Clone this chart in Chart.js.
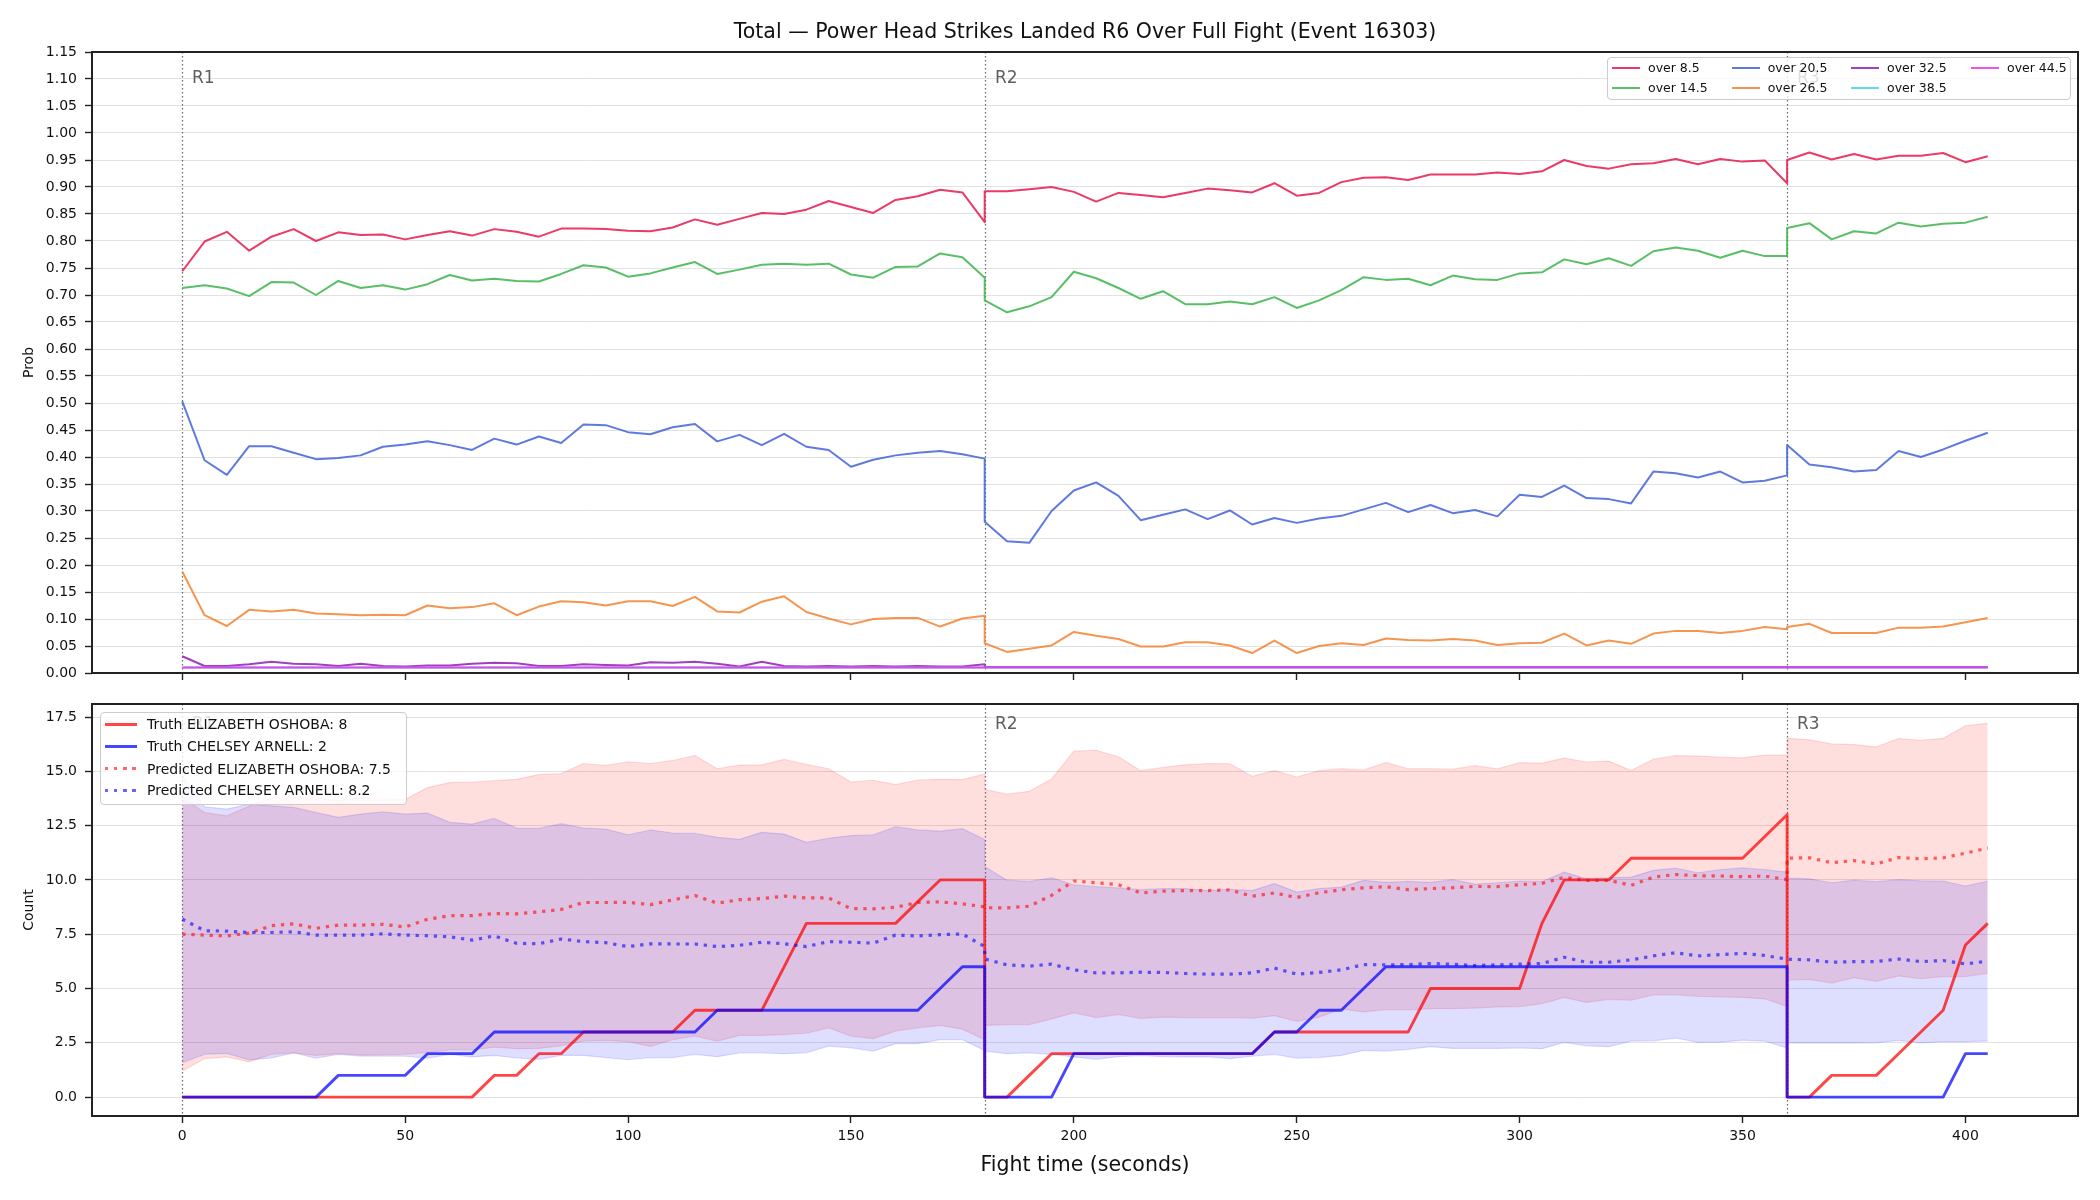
<!DOCTYPE html>
<html>
<head>
<meta charset="utf-8">
<script src="https://cdn.jsdelivr.net/npm/chart.js@4.4.1/dist/chart.umd.min.js"></script>
<style>
  html, body { margin:0; padding:0; background:#fff; }
  body { width:2100px; height:1200px; position:relative; overflow:hidden; font-family:"DejaVu Sans", sans-serif; color:#111; }
  canvas { position:absolute; left:0; top:0; }
  .abs { position:absolute; white-space:nowrap; }
  .legbox { position:absolute; border:1px solid #cccccc; border-radius:4px; background:rgba(255,255,255,0.8); box-sizing:border-box; }
</style>
</head>
<body>
<canvas id="cTop" width="2100" height="1200"></canvas>
<canvas id="cBot" width="2100" height="1200"></canvas>
<div id="title" class="abs" style="left:0;width:2170px;top:19px;text-align:center;font-size:20.5px;line-height:24px;">Total — Power Head Strikes Landed R6 Over Full Fight (Event 16303)</div>
<div id="legTop"></div>
<div id="legBot"></div>
<script>
// ---------------- DATA ----------------
const roundStarts = [0, 180, 360];
const roundLabels = ['R1', 'R2', 'R3'];

const xTicks = [0, 50, 100, 150, 200, 250, 300, 350, 400];
const probTicks = [0, 0.05, 0.10, 0.15, 0.20, 0.25, 0.30, 0.35, 0.40, 0.45, 0.50, 0.55, 0.60, 0.65, 0.70, 0.75, 0.80, 0.85, 0.90, 0.95, 1.00, 1.05, 1.10, 1.15];
const countTicks = [0, 2.5, 5, 7.5, 10, 12.5, 15, 17.5];

// fight time (s); round boundaries appear twice (end of one round, start of next)
const times = [
  0,5,10,15,20,25,30,35,40,45,50,55,60,65,70,75,80,85,90,95,100,105,110,115,120,125,130,135,140,145,150,155,160,165,170,175,180,
  180,185,190,195,200,205,210,215,220,225,230,235,240,245,250,255,260,265,270,275,280,285,290,295,300,305,310,315,320,325,330,335,340,345,350,355,360,
  360,365,370,375,380,385,390,395,400,405
];

const lineNames = ['over 8.5', 'over 14.5', 'over 20.5', 'over 26.5', 'over 32.5', 'over 38.5', 'over 44.5'];

const over8_5 = [
  0.744,0.799,0.817,0.782,0.808,0.822,0.800,0.816,0.811,0.812,0.803,0.811,0.818,0.810,0.822,0.817,0.808,0.823,0.823,0.822,0.819,0.818,0.825,0.840,0.830,0.841,0.852,0.850,0.858,0.874,0.863,0.852,0.876,0.883,0.895,0.890,0.835,
  0.892,0.892,0.896,0.900,0.891,0.873,0.889,0.885,0.881,0.889,0.897,0.894,0.890,0.907,0.884,0.889,0.909,0.917,0.918,0.913,0.923,0.923,0.923,0.927,0.924,0.929,0.950,0.939,0.934,0.942,0.944,0.952,0.942,0.952,0.947,0.949,0.907,
  0.950,0.964,0.951,0.961,0.951,0.958,0.958,0.963,0.946,0.957
];
const over14_5 = [
  0.713,0.718,0.712,0.698,0.724,0.723,0.700,0.726,0.713,0.718,0.710,0.720,0.737,0.727,0.730,0.726,0.725,0.739,0.755,0.751,0.734,0.740,0.751,0.761,0.739,0.747,0.756,0.758,0.756,0.758,0.738,0.732,0.752,0.753,0.777,0.770,0.732,
  0.690,0.668,0.679,0.696,0.743,0.731,0.713,0.693,0.707,0.683,0.683,0.688,0.683,0.696,0.676,0.690,0.709,0.733,0.728,0.730,0.718,0.736,0.729,0.728,0.740,0.742,0.766,0.757,0.768,0.754,0.781,0.788,0.782,0.769,0.782,0.772,0.772,
  0.824,0.833,0.803,0.818,0.814,0.834,0.827,0.832,0.834,0.845
];
const over20_5 = [
  0.503,0.394,0.367,0.420,0.420,0.408,0.396,0.398,0.403,0.419,0.423,0.429,0.422,0.413,0.434,0.423,0.438,0.426,0.460,0.459,0.446,0.442,0.455,0.461,0.429,0.441,0.422,0.443,0.419,0.413,0.382,0.395,0.403,0.408,0.411,0.405,0.397,
  0.280,0.244,0.241,0.300,0.338,0.353,0.328,0.283,0.293,0.303,0.285,0.301,0.275,0.287,0.278,0.286,0.291,0.303,0.315,0.298,0.311,0.296,0.302,0.290,0.330,0.326,0.347,0.324,0.322,0.314,0.373,0.370,0.362,0.373,0.353,0.356,0.366,
  0.422,0.386,0.381,0.373,0.376,0.411,0.400,0.414,0.430,0.445
];
const over26_5 = [
  0.188,0.107,0.087,0.117,0.114,0.117,0.110,0.109,0.107,0.108,0.107,0.125,0.120,0.122,0.129,0.107,0.123,0.133,0.131,0.125,0.133,0.133,0.124,0.141,0.114,0.112,0.132,0.142,0.113,0.101,0.090,0.100,0.102,0.102,0.086,0.101,0.106,
  0.055,0.039,0.045,0.051,0.076,0.069,0.063,0.049,0.049,0.057,0.057,0.051,0.037,0.060,0.037,0.050,0.055,0.052,0.064,0.061,0.060,0.063,0.060,0.052,0.055,0.056,0.073,0.051,0.060,0.054,0.073,0.078,0.078,0.074,0.078,0.085,0.081,
  0.085,0.091,0.074,0.074,0.074,0.084,0.084,0.086,0.094,0.102
];
const over32_5 = [
  0.031,0.013,0.013,0.016,0.021,0.017,0.016,0.013,0.017,0.013,0.012,0.014,0.014,0.017,0.019,0.018,0.013,0.013,0.016,0.015,0.014,0.020,0.019,0.021,0.017,0.012,0.021,0.013,0.012,0.013,0.012,0.013,0.012,0.013,0.012,0.012,0.016,
  0.011,0.011,0.011,0.011,0.011,0.011,0.011,0.011,0.011,0.011,0.011,0.011,0.011,0.011,0.011,0.011,0.011,0.011,0.011,0.011,0.011,0.011,0.011,0.011,0.011,0.011,0.011,0.011,0.011,0.011,0.011,0.011,0.011,0.011,0.011,0.011,0.011,
  0.011,0.011,0.011,0.011,0.011,0.011,0.011,0.011,0.011,0.011
];
const over38_5 = [
  0.010,0.010,0.010,0.010,0.010,0.010,0.010,0.010,0.010,0.010,0.010,0.010,0.010,0.010,0.010,0.010,0.010,0.010,0.010,0.010,0.010,0.010,0.010,0.010,0.010,0.010,0.010,0.010,0.010,0.010,0.010,0.010,0.010,0.010,0.010,0.010,0.010,
  0.010,0.010,0.010,0.010,0.010,0.010,0.010,0.010,0.010,0.010,0.010,0.010,0.010,0.010,0.010,0.010,0.010,0.010,0.010,0.010,0.010,0.010,0.010,0.010,0.010,0.010,0.010,0.010,0.010,0.010,0.010,0.010,0.010,0.010,0.010,0.010,0.010,
  0.010,0.010,0.010,0.010,0.010,0.010,0.010,0.010,0.010,0.010
];
const over44_5 = [
  0.010,0.010,0.010,0.010,0.010,0.010,0.010,0.010,0.010,0.010,0.010,0.010,0.010,0.010,0.010,0.010,0.010,0.010,0.010,0.010,0.010,0.010,0.010,0.010,0.010,0.010,0.010,0.010,0.010,0.010,0.010,0.010,0.010,0.010,0.010,0.010,0.010,
  0.010,0.010,0.010,0.010,0.010,0.010,0.010,0.010,0.010,0.010,0.010,0.010,0.010,0.010,0.010,0.010,0.010,0.010,0.010,0.010,0.010,0.010,0.010,0.010,0.010,0.010,0.010,0.010,0.010,0.010,0.010,0.010,0.010,0.010,0.010,0.010,0.010,
  0.010,0.010,0.010,0.010,0.010,0.010,0.010,0.010,0.010,0.010
];

const countNames = ['Truth ELIZABETH OSHOBA: 8', 'Truth CHELSEY ARNELL: 2', 'Predicted ELIZABETH OSHOBA: 7.5', 'Predicted CHELSEY ARNELL: 8.2'];

const truthOshoba = [
  0,0,0,0,0,0,0,0,0,0,0,0,0,0,1,1,2,2,3,3,3,3,3,4,4,4,4,6,8,8,8,8,8,9,10,10,10,
  0,0,1,2,2,2,2,2,2,2,2,2,2,3,3,3,3,3,3,3,5,5,5,5,5,8,10,10,10,11,11,11,11,11,11,12,13,
  0,0,1,1,1,2,3,4,7,8
];
const truthArnell = [
  0,0,0,0,0,0,0,1,1,1,1,2,2,2,3,3,3,3,3,3,3,3,3,3,4,4,4,4,4,4,4,4,4,4,5,6,6,
  0,0,0,0,2,2,2,2,2,2,2,2,2,3,3,4,4,5,6,6,6,6,6,6,6,6,6,6,6,6,6,6,6,6,6,6,6,
  0,0,0,0,0,0,0,0,2,2
];
const predOshoba = [
  7.50,7.46,7.42,7.55,7.89,7.98,7.77,7.92,7.92,7.96,7.83,8.19,8.35,8.36,8.45,8.44,8.53,8.64,8.96,8.96,8.97,8.86,9.08,9.28,8.93,9.09,9.14,9.25,9.17,9.17,8.68,8.67,8.74,8.96,8.99,8.90,8.76,
  8.72,8.71,8.79,9.29,9.95,9.87,9.78,9.40,9.48,9.51,9.51,9.54,9.25,9.40,9.19,9.41,9.55,9.63,9.69,9.55,9.60,9.64,9.70,9.69,9.78,9.84,10.12,9.98,9.98,9.75,10.13,10.25,10.19,10.18,10.15,10.18,10.01,
  11.00,11.02,10.79,10.89,10.74,11.03,10.97,11.02,11.23,11.47
];
const predArnell = [
  8.20,7.66,7.64,7.58,7.58,7.61,7.46,7.46,7.46,7.52,7.46,7.43,7.38,7.23,7.42,7.08,7.06,7.28,7.16,7.11,6.93,7.06,7.05,7.05,6.93,6.99,7.13,7.06,6.93,7.16,7.13,7.09,7.46,7.42,7.48,7.51,6.93,
  6.36,6.09,6.03,6.12,5.86,5.72,5.72,5.75,5.74,5.69,5.66,5.66,5.72,5.94,5.66,5.74,5.86,6.10,6.09,6.10,6.15,6.12,6.06,6.09,6.12,6.15,6.44,6.21,6.21,6.32,6.50,6.65,6.50,6.56,6.62,6.52,6.35,
  6.35,6.32,6.21,6.24,6.24,6.36,6.24,6.29,6.13,6.26
];
const oshobaHigh = [
  13.80,13.10,12.95,13.40,13.80,13.85,13.80,13.65,13.80,13.75,13.70,14.25,14.48,14.50,14.57,14.63,14.85,14.90,15.36,15.27,15.44,15.36,15.50,15.73,15.12,15.29,15.30,15.55,15.32,15.12,14.51,14.59,14.39,14.60,14.63,14.62,14.88,
  14.17,13.95,14.08,14.65,15.93,15.97,15.67,15.03,15.18,15.30,15.36,15.35,14.77,15.04,14.74,15.03,15.12,15.06,15.41,15.12,15.12,15.10,15.26,15.12,15.40,15.38,15.61,15.43,15.47,15.04,15.56,15.72,15.70,15.65,15.62,15.75,15.75,
  16.52,16.45,16.26,16.23,16.13,16.51,16.43,16.52,17.10,17.21
];
const oshobaLow = [
  1.20,1.77,1.85,1.62,1.97,2.03,1.92,2.00,1.94,1.95,1.97,2.06,2.17,2.17,2.30,2.23,2.24,2.36,2.58,2.61,2.55,2.33,2.64,2.81,2.58,2.84,2.84,2.88,2.94,3.19,2.81,2.69,3.04,3.19,3.30,3.13,2.64,
  3.30,3.34,3.34,3.60,3.88,3.66,3.80,3.62,3.68,3.66,3.65,3.66,3.63,3.75,3.49,3.68,4.06,3.92,4.03,4.01,4.07,4.07,4.10,4.15,4.17,4.30,4.59,4.36,4.50,4.46,4.71,4.71,4.64,4.61,4.59,4.52,4.18,
  5.38,5.42,5.25,5.50,5.33,5.58,5.45,5.55,5.55,5.70
];
const arnellHigh = [
  14.78,13.37,13.26,13.49,13.41,13.34,13.11,12.88,13.03,13.14,13.03,13.08,12.65,12.57,12.83,12.39,12.37,12.59,12.39,12.34,12.08,12.30,12.16,12.15,11.96,11.87,12.19,12.11,11.73,11.92,12.04,12.08,12.45,12.30,12.25,12.36,11.86,
  10.62,9.99,9.93,10.10,9.77,9.69,9.63,9.55,9.60,9.60,9.51,9.57,9.51,9.83,9.44,9.60,9.67,9.98,9.89,9.93,9.89,10.01,9.81,9.87,9.95,9.93,10.36,10.05,10.10,10.13,10.44,10.54,10.33,10.47,10.56,10.47,10.36,
  10.09,10.05,9.87,9.99,9.92,10.01,9.96,9.95,9.72,9.95
];
const arnellLow = [
  1.59,1.97,2.01,1.71,1.80,2.04,1.79,1.97,1.89,1.89,1.88,1.79,1.97,1.85,1.92,1.80,1.74,1.92,1.92,1.82,1.72,1.82,1.82,1.97,1.86,2.03,2.03,2.00,2.04,2.35,2.27,2.12,2.46,2.46,2.65,2.64,2.15,
  2.12,2.00,2.04,1.97,1.85,1.74,1.86,1.91,1.86,1.85,1.86,1.77,1.88,1.97,1.79,1.82,1.92,2.15,2.12,2.20,2.32,2.24,2.24,2.24,2.26,2.23,2.52,2.36,2.32,2.58,2.59,2.72,2.52,2.53,2.62,2.58,2.26,
  2.49,2.49,2.49,2.49,2.50,2.61,2.49,2.55,2.55,2.58
];

// ---------------- STYLE ----------------
const lineColors = ['rgba(230,25,75,0.85)', 'rgba(60,180,75,0.85)', 'rgba(67,99,216,0.85)', 'rgba(245,130,49,0.85)', 'rgba(145,30,180,0.85)', 'rgba(66,212,244,0.85)', 'rgba(240,50,230,0.85)'];
const RED_T = 'rgba(255,0,0,0.72)', BLUE_T = 'rgba(0,0,255,0.72)';
const RED_P = 'rgba(255,0,0,0.6)', BLUE_P = 'rgba(0,0,255,0.6)';
const RED_B = 'rgba(255,0,0,0.13)', BLUE_B = 'rgba(0,0,255,0.13)';
const FRAME = '#222222';

Chart.defaults.font.family = '"DejaVu Sans", sans-serif';
Chart.defaults.font.size = 14;
Chart.defaults.color = '#111';

const pts = ys => times.map((t, i) => ({ x: t, y: ys[i] }));

const roundPlugin = {
  id: 'rounds',
  beforeDatasetsDraw(chart) {
    const { ctx, chartArea: a } = chart;
    const xs = chart.scales.x;
    ctx.save();
    roundStarts.forEach((t, i) => {
      const px = Math.round(xs.getPixelForValue(t)) + 0.5;
      ctx.strokeStyle = 'rgba(40,40,40,0.7)';
      ctx.lineWidth = 1.2;
      ctx.setLineDash([1.5, 2.5]);
      ctx.beginPath(); ctx.moveTo(px, a.top); ctx.lineTo(px, a.bottom); ctx.stroke();
      ctx.setLineDash([]);
      ctx.font = '17px "DejaVu Sans"';
      ctx.fillStyle = '#5f5f5f';
      ctx.textBaseline = 'alphabetic';
      ctx.textAlign = 'left';
      ctx.fillText(roundLabels[i], px + 9.5, a.top + 0.03 * (a.bottom - a.top) + 12.6);
    });
    ctx.restore();
  },
  afterDraw(chart) {
    const { ctx, chartArea: a } = chart;
    ctx.save();
    ctx.strokeStyle = FRAME; ctx.lineWidth = 2;
    ctx.strokeRect(a.left, a.top, a.right - a.left, a.bottom - a.top);
    ctx.restore();
  }
};

function xScale(showLabels, height, withTitle) {
  return {
    type: 'linear', min: -20.25, max: 425.25,
    afterBuildTicks: s => { s.ticks = xTicks.map(v => ({ value: v })); },
    ticks: { display: showLabels, padding: 5, autoSkip: false, maxRotation: 0, font: { size: 14 }, color: '#111', callback: v => String(v) },
    grid: { display: true, drawOnChartArea: false, drawTicks: true, tickLength: 7, tickColor: FRAME, tickWidth: 1.4 },
    border: { display: false },
    title: withTitle ? { display: true, text: 'Fight time (seconds)', font: { size: 20.5 }, color: '#111', padding: { top: 0, bottom: 22 } } : { display: false },
    afterFit: s => { s.height = height; }
  };
}
function yScale(min, max, tickVals, digits, label) {
  return {
    type: 'linear', min: min, max: max,
    afterBuildTicks: s => { s.ticks = tickVals.map(v => ({ value: v })); },
    ticks: { autoSkip: false, padding: 8, font: { size: 14 }, color: '#111', callback: v => Number(v).toFixed(digits) },
    grid: { color: '#e2e2e2', lineWidth: 1, drawTicks: true, tickLength: 7, tickColor: FRAME, tickWidth: 1.4 },
    border: { display: false },
    title: { display: true, text: label, font: { size: 14 }, color: '#111', padding: { top: 21, bottom: 0 } },
    afterFit: s => { s.width = 92; }
  };
}

// ---------------- TOP CHART ----------------
const topSeries = [over8_5, over14_5, over20_5, over26_5, over32_5, over38_5, over44_5];
new Chart(document.getElementById('cTop'), {
  type: 'line',
  data: {
    datasets: topSeries.map((ys, i) => ({
      label: lineNames[i], data: pts(ys), borderColor: lineColors[i], backgroundColor: lineColors[i],
      borderWidth: 2, pointRadius: 0, tension: 0, fill: false, order: -i, borderJoinStyle: 'round'
    }))
  },
  options: {
    responsive: false, animation: false, events: [],
    layout: { padding: { left: 0, right: 22, top: 52, bottom: 517 } },
    plugins: { legend: { display: false }, tooltip: { enabled: false }, title: { display: false } },
    scales: { x: xScale(false, 10, false), y: yScale(0, 1.15, probTicks, 2, 'Prob') }
  },
  plugins: [roundPlugin]
});

// ---------------- BOTTOM CHART ----------------
const botDatasets = [
  { label: 'band1', data: pts(oshobaHigh), borderColor: RED_B, backgroundColor: RED_B, borderWidth: 1.2, fill: '+1' },
  { label: 'band1lo', data: pts(oshobaLow), borderColor: RED_B, borderWidth: 1.2, fill: false },
  { label: 'band2', data: pts(arnellHigh), borderColor: BLUE_B, backgroundColor: BLUE_B, borderWidth: 1.2, fill: '+1' },
  { label: 'band2lo', data: pts(arnellLow), borderColor: BLUE_B, borderWidth: 1.2, fill: false },
  { label: countNames[0], data: pts(truthOshoba), borderColor: RED_T, borderWidth: 2.9, fill: false },
  { label: countNames[1], data: pts(truthArnell), borderColor: BLUE_T, borderWidth: 2.9, fill: false },
  { label: countNames[2], data: pts(predOshoba), borderColor: RED_P, borderWidth: 3.2, borderDash: [3.3, 5.8], fill: false },
  { label: countNames[3], data: pts(predArnell), borderColor: BLUE_P, borderWidth: 3.2, borderDash: [3.3, 5.8], fill: false }
].map((d, i) => Object.assign({ pointRadius: 0, tension: 0, order: -i, borderJoinStyle: 'round' }, d));

new Chart(document.getElementById('cBot'), {
  type: 'line',
  data: { datasets: botDatasets },
  options: {
    responsive: false, animation: false, events: [],
    layout: { padding: { left: 0, right: 22, top: 704, bottom: 0 } },
    plugins: { legend: { display: false }, tooltip: { enabled: false }, title: { display: false }, filler: { propagate: false } },
    scales: { x: xScale(true, 84, true), y: yScale(-0.87, 18.1, countTicks, 1, 'Count') }
  },
  plugins: [roundPlugin]
});

// ---------------- LEGENDS (HTML text) ----------------
(function () {
  const top = document.getElementById('legTop');
  let html = '<div class="legbox" style="left:1607px;top:57px;width:464px;height:43px;"></div>';
  const colX = [1612, 1731.7, 1851, 1971];
  const rowY = [68.3, 87.7];
  lineNames.forEach((n, i) => {
    const c = Math.floor(i / 2), r = i % 2;
    html += `<div class="abs" style="left:${colX[c]}px;top:${rowY[r] - 1}px;width:28px;height:2px;background:${lineColors[i]}"></div>`;
    html += `<div class="abs" style="left:${colX[c] + 36}px;top:${rowY[r] - 8}px;font-size:12.5px;line-height:16px;color:#111">${n}</div>`;
  });
  top.innerHTML = html;

  const bot = document.getElementById('legBot');
  let h2 = '<div class="legbox" style="left:100px;top:712px;width:307px;height:93px;"></div>';
  const rows = [724, 746.3, 768.7, 790];
  const sw = [
    `background:${RED_T};height:3px`,
    `background:${BLUE_T};height:3px`,
    `background:repeating-linear-gradient(90deg, ${RED_P} 0 3.3px, transparent 3.3px 9.1px);height:3.2px`,
    `background:repeating-linear-gradient(90deg, ${BLUE_P} 0 3.3px, transparent 3.3px 9.1px);height:3.2px`
  ];
  countNames.forEach((n, i) => {
    h2 += `<div class="abs" style="left:105px;top:${rows[i] - 1.5}px;width:32px;${sw[i]}"></div>`;
    h2 += `<div class="abs" style="left:147px;top:${rows[i] - 9}px;font-size:14px;line-height:18px;color:#111">${n}</div>`;
  });
  bot.innerHTML = h2;
})();
</script>
</body>
</html>
